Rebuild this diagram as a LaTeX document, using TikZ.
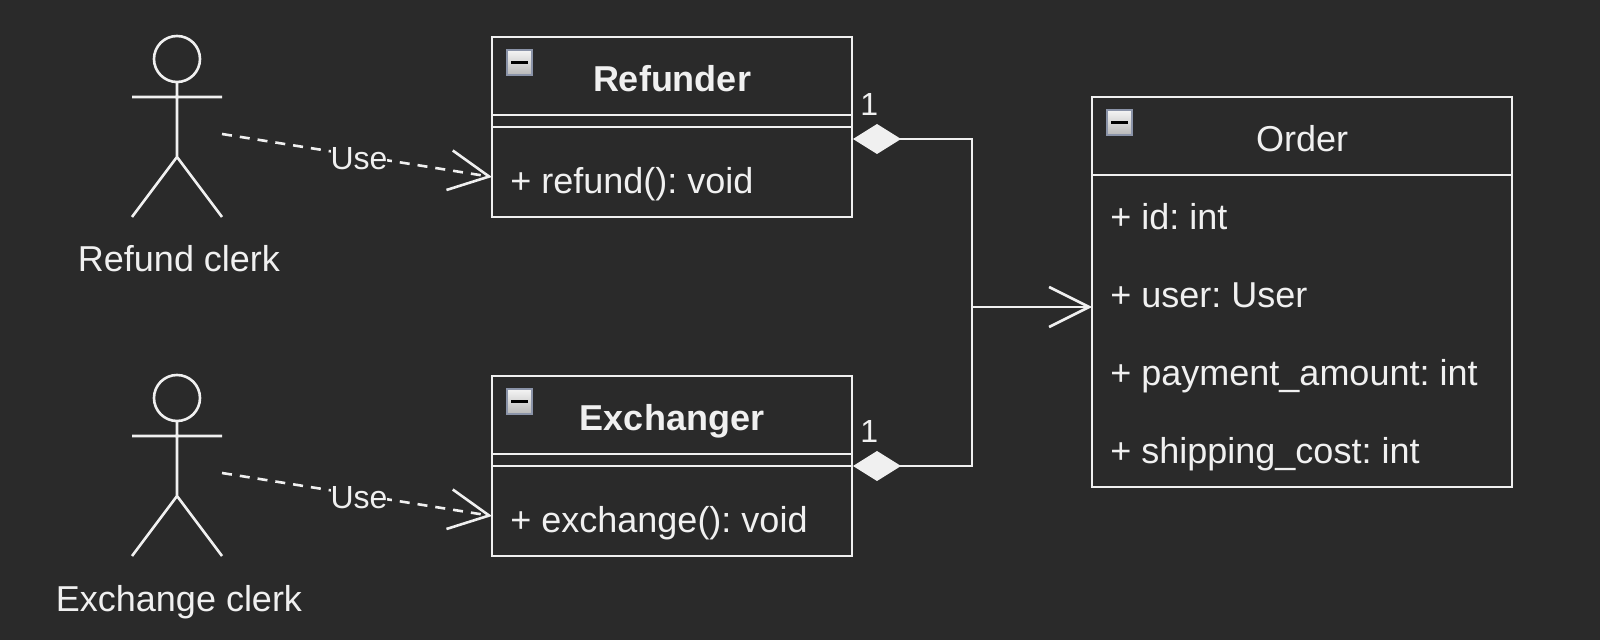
\documentclass[tikz,border=0pt]{standalone}
\usepackage{fontspec}
\setmainfont{Liberation Sans}
\frenchspacing
\usepackage{xcolor}
\usetikzlibrary{arrows.meta}
\usetikzlibrary{positioning}

\definecolor{canvasgray}{HTML}{2A2A2A}
\definecolor{inkwhite}{HTML}{F0F0F0}
\definecolor{iconedge}{HTML}{8A93A8}

\tikzset{
  uml/.style={color=inkwhite, line width=1.3pt},
  part/.style={draw=inkwhite, line width=1.3pt, outer sep=0pt, inner sep=0pt,
    text=inkwhite},
  title/.style={part, minimum height=39pt, text height=15.5pt, text depth=0pt,
    font=\fontsize{18}{22}\selectfont},
  spacer/.style={part, minimum height=6pt, below=0pt of #1},
  member/.style={anchor=base west, inner sep=0pt, text=inkwhite,
    font=\fontsize{18}{22}\selectfont},
  caption/.style={anchor=base, inner sep=0pt, text=inkwhite,
    font=\fontsize{18}{22}\selectfont},
  small/.style={inner sep=0pt, text=inkwhite, font=\fontsize{16}{20}\selectfont},
  usage/.style={uml, dash pattern=on 5pt off 4pt,
    -{Straight Barb[length=20pt, width=20pt]}},
  owner/.style={uml, {Diamond[length=24pt, width=15pt, fill=inkwhite]}-},
  target/.style={uml, -{Straight Barb[length=20pt, width=20pt]}},
  collapse/.pic={
    \draw[iconedge, line width=1.3pt, top color=black!4, bottom color=black!28,
      shading angle=0] (0, 0) rectangle (25, 25);
    \fill[black] (4, 11) rectangle (21, 14);
  },
  actor/.pic={
    \draw[uml, line cap=butt] (0, 22) circle (11.5pt)
      (0, 45) -- (0, 120) (-45, 60) -- (45, 60)
      (-45, 180) -- (0, 120) -- (45, 180);
  }
}

\begin{document}
\begin{tikzpicture}[x=0.5pt, y=-0.5pt]

  \useasboundingbox (0, 0) rectangle (1600, 640);
  \fill[canvasgray] (0, 0) rectangle (1600, 640);

  % the two clerks
  \path (177, 37) pic {actor};
  \path (177, 376) pic {actor};
  \node[caption] (refundclerk) at (179, 272) {Refund clerk};
  \node[caption] (exchangeclerk) at (179, 611) {Exchange clerk};

  % refunder
  \node[title, anchor=north west, minimum width=180pt] (refunder) at (492, 37)
    {\bfseries Refunder};
  \node[spacer=refunder, minimum width=180pt] (refundersep) {};
  \node[part, below=0pt of refundersep, minimum width=180pt, minimum height=45pt]
    (refunderbody) {};
  \node[member] (refund) at (510, 194) {+ refund(): void};
  \path (507, 50) pic {collapse};

  % exchanger
  \node[title, anchor=north west, minimum width=180pt] (exchanger) at (492, 376)
    {\bfseries Exchanger};
  \node[spacer=exchanger, minimum width=180pt] (exchangersep) {};
  \node[part, below=0pt of exchangersep, minimum width=180pt, minimum height=45pt]
    (exchangerbody) {};
  \node[member] (exchange) at (510, 532) {+ exchange(): void};
  \path (507, 389) pic {collapse};

  % order
  \node[title, anchor=north west, minimum width=210pt] (order) at (1092, 97)
    {Order};
  \node[part, below=0pt of order, minimum width=210pt, minimum height=156pt]
    (orderbody) {};
  \node[member] (orderid) at (1110, 230) {+ id: int};
  \node[member] (orderuser) at (1110, 308) {+ user: User};
  \node[member] (orderamount) at (1110, 386) {+ payment\_amount: int};
  \node[member] (ordercost) at (1110, 464) {+ shipping\_cost: int};
  \path (1107, 110) pic {collapse};

  % connector ends
  \coordinate (refundhand) at (222, 134);
  \coordinate (exchangehand) at (222, 473);
  \coordinate (refunderin) at (492, 177);
  \coordinate (exchangerin) at (492, 516);
  \coordinate (refunderout) at (853, 139);
  \coordinate (exchangerout) at (853, 466);
  \coordinate (joint) at (972, 307);
  \coordinate (orderin) at (1092, 307);

  \draw[usage] (refundhand) -- (refunderin)
    node[small, fill=canvasgray, midway, xshift=1pt, yshift=-1.5pt] (refunduse) {Use};
  \draw[usage] (exchangehand) -- (exchangerin)
    node[small, fill=canvasgray, midway, xshift=1pt, yshift=-1.5pt] (exchangeuse) {Use};

  \draw[owner] (refunderout) -| (joint);
  \draw[owner] (exchangerout) -| (joint);
  \draw[target] (joint) -- (orderin);

  \node[small, anchor=base west] (refunderone) at (860, 116) {1};
  \node[small, anchor=base west] (exchangerone) at (860, 443) {1};

\end{tikzpicture}
\end{document}
